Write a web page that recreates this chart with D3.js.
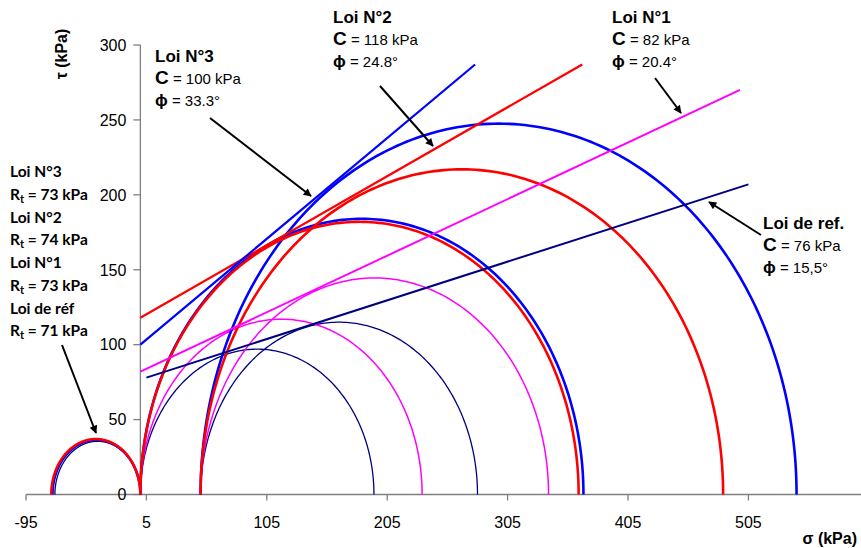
<!DOCTYPE html>
<html><head><meta charset="utf-8">
<script src="https://cdn.jsdelivr.net/npm/d3@7"></script>
<style>body{margin:0;background:#fff}svg{display:block}</style>
</head><body>
<svg id="c" width="861" height="548"></svg>
<script>
// ---- data ----
const laws = ["Loi de réf", "Loi N°1", "Loi N°2", "Loi N°3"];
const colors = ["#000080", "#FF00FF", "#FF0000", "#0000FF"];
const tensionRt = [71, 73, 74, 73];          // traction circle: from -Rt to 0
const ucsSigma1 = [194, 234, 364, 368];      // circle from 0 to sigma1
const triaxSigma3 = [50, 50, 50, 50];
const triaxSigma1 = [280, 339, 484, 545];
const lineStart = [[5, 78], [0, 82], [0, 118], [0, 100]];
const lineEnd = [[505, 207], [498, 270], [367, 287], [278, 287]];
const cohesion = [76, 82, 118, 100];
const phiLabels = ["15,5°", "20.4°", "24.8°", "33.3°"];
const xTicks = [-95, 5, 105, 205, 305, 405, 505];
const yTicks = [0, 50, 100, 150, 200, 250, 300];

// ---- layout ----
const svg = d3.select("#c");
const x = d3.scaleLinear().domain([-95, 505]).range([26, 748.4]);
const y = d3.scaleLinear().domain([0, 300]).range([494.5, 45]);
const axisColor = "#7f7f7f";
const circleW = [1.3, 1.5, 2.6, 2.6];
const lineW = [2, 2, 2.2, 2.2];
const fa = "Liberation Sans, Arial, sans-serif";

// axes
const gx = svg.append("g").attr("transform", `translate(0,${y(0)})`);
gx.append("line").attr("x1", x(-95)).attr("x2", 861).attr("stroke", axisColor).attr("stroke-width", 1.3);
gx.selectAll("line.t").data(xTicks).join("line").attr("class", "t")
  .attr("x1", d => x(d)).attr("x2", d => x(d)).attr("y1", 0).attr("y2", 6)
  .attr("stroke", axisColor).attr("stroke-width", 1.3);
gx.selectAll("text").data(xTicks).join("text")
  .attr("x", d => x(d)).attr("y", 33).attr("text-anchor", "middle")
  .attr("font-family", fa).attr("font-size", 16)
  .text(d => d);

const gy = svg.append("g").attr("transform", `translate(${x(0)},0)`);
gy.append("line").attr("y1", y(0)).attr("y2", y(300)).attr("stroke", axisColor).attr("stroke-width", 1.3);
gy.selectAll("line.t").data(yTicks).join("line").attr("class", "t")
  .attr("x1", -7).attr("x2", 0).attr("y1", d => y(d)).attr("y2", d => y(d))
  .attr("stroke", axisColor).attr("stroke-width", 1.3);
gy.selectAll("text").data(yTicks).join("text")
  .attr("x", -14).attr("y", d => y(d)).attr("dy", "0.36em").attr("text-anchor", "end")
  .attr("font-family", fa).attr("font-size", 16)
  .text(d => d);

// axis titles
svg.append("text").attr("transform", "translate(67,54) rotate(-90)").attr("text-anchor", "middle")
  .attr("font-family", fa).attr("font-weight", "bold").attr("font-size", 16)
  .text("τ (kPa)");
svg.append("text").attr("x", 857).attr("y", 544).attr("text-anchor", "end")
  .attr("font-family", fa).attr("font-weight", "bold").attr("font-size", 16)
  .text("σ (kPa)");

// Mohr half circles
function halfCircle(a, b) {
  const c = (a + b) / 2, r = (b - a) / 2;
  const pts = d3.range(0, 181).map(i => {
    const t = Math.PI * i / 180;
    return [c - r * Math.cos(t), r * Math.sin(t)];
  });
  return d3.line().x(d => x(d[0])).y(d => y(d[1]))(pts);
}
const circles = [];
[0, 1, 3, 2].forEach(i => {
  circles.push({ i, a: -tensionRt[i], b: 0 });
  circles.push({ i, a: 0, b: ucsSigma1[i] });
  circles.push({ i, a: triaxSigma3[i], b: triaxSigma1[i] });
});
svg.append("g").selectAll("path").data(circles).join("path")
  .attr("d", d => halfCircle(d.a, d.b)).attr("fill", "none")
  .attr("stroke", d => colors[d.i]).attr("stroke-width", d => circleW[d.i]);

// envelopes
svg.append("g").selectAll("line").data(d3.range(4)).join("line")
  .attr("x1", i => x(lineStart[i][0])).attr("y1", i => y(lineStart[i][1]))
  .attr("x2", i => x(lineEnd[i][0])).attr("y2", i => y(lineEnd[i][1]))
  .attr("stroke", i => colors[i]).attr("stroke-width", i => lineW[i]);

// arrows
svg.append("defs").append("marker").attr("id", "ah").attr("viewBox", "0 0 10 10")
  .attr("refX", 9).attr("refY", 5).attr("markerWidth", 11).attr("markerHeight", 8)
  .attr("markerUnits", "userSpaceOnUse").attr("orient", "auto")
  .append("path").attr("d", "M0,0 L10,5 L0,10 Z").attr("fill", "#000");
const arrows = [[62, 345, 96, 433], [210, 118, 311, 196], [380, 86, 433, 146], [655, 78, 681, 113], [761, 235, 709, 202]];
svg.append("g").selectAll("line").data(arrows).join("line")
  .attr("x1", d => d[0]).attr("y1", d => d[1]).attr("x2", d => d[2]).attr("y2", d => d[3])
  .attr("stroke", "#000").attr("stroke-width", 2).attr("marker-end", "url(#ah)");

// law annotations
const ann = [
  { i: 3, x: 155, y: 62, title: "Loi N°3" },
  { i: 2, x: 333, y: 23, title: "Loi N°2" },
  { i: 1, x: 612, y: 23, title: "Loi N°1" },
  { i: 0, x: 763, y: 229, title: "Loi de ref." }
];
ann.forEach(a => {
  const g = svg.append("g").attr("font-family", fa);
  g.append("text").attr("x", a.x).attr("y", a.y).attr("font-weight", "bold").attr("font-size", 17).text(a.title);
  const t2 = g.append("text").attr("x", a.x).attr("y", a.y + 22);
  t2.append("tspan").attr("font-weight", "bold").attr("font-size", 19).text("C");
  t2.append("tspan").attr("font-size", 15).text(" = " + cohesion[a.i] + " kPa");
  const t3 = g.append("text").attr("x", a.x).attr("y", a.y + 44);
  t3.append("tspan").attr("font-weight", "bold").attr("font-size", 17).text("ϕ");
  t3.append("tspan").attr("font-size", 15).text(" = " + phiLabels[a.i]);
});

// tension annotations (left)
const leftLaws = [3, 2, 1, 0];
const leftNames = ["Loi N°3", "Loi N°2", "Loi N°1", "Loi de réf"];
const gl = svg.append("g").attr("font-family", "Lato, 'Open Sans', sans-serif").attr("font-weight", "bold").attr("font-size", 15.5);
leftLaws.forEach((li, k) => {
  const y0 = 177 + k * 45.5;
  gl.append("text").attr("x", 10).attr("y", y0).text(leftNames[k]);
  const t = gl.append("text").attr("x", 10).attr("y", y0 + 22.5);
  t.append("tspan").text("R");
  t.append("tspan").attr("font-size", 11).attr("dy", 3).text("t");
  t.append("tspan").attr("dy", -3).text(" = " + tensionRt[li] + " kPa");
});
</script>
</body></html>
